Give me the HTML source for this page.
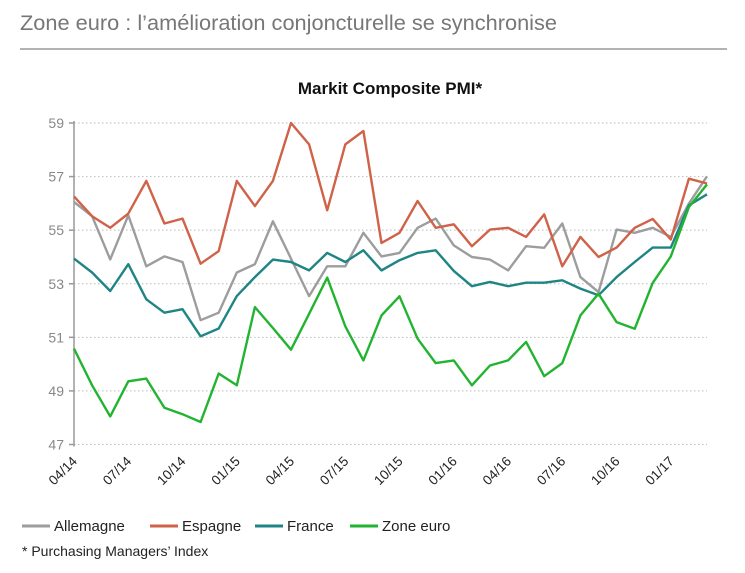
<!DOCTYPE html>
<html><head><meta charset="utf-8"><style>
body{margin:0;background:#fff;width:745px;height:568px;overflow:hidden;font-family:"Liberation Sans Narrow","Liberation Sans",sans-serif}
</style></head><body>
<svg width="745" height="568" xmlns="http://www.w3.org/2000/svg">
<text x="20" y="30" font-size="21" fill="#777" textLength="537" lengthAdjust="spacingAndGlyphs">Zone euro : l’amélioration conjoncturelle se synchronise</text>
<line x1="20" y1="49" x2="727" y2="49" stroke="#999" stroke-width="1.5"/>
<text x="390" y="94" font-size="17" font-weight="bold" text-anchor="middle" fill="#111">Markit Composite PMI*</text>
<g id="grid"></g><g id="axes"></g><g id="series"></g>
<g font-size="15" fill="#222">
<line x1="22" y1="526" x2="50" y2="526" stroke="#9d9d9d" stroke-width="3"/>
<text x="54" y="531">Allemagne</text>
<line x1="150" y1="526" x2="178" y2="526" stroke="#cf6248" stroke-width="3"/>
<text x="182" y="531">Espagne</text>
<line x1="255" y1="526" x2="283" y2="526" stroke="#1f8584" stroke-width="3"/>
<text x="287" y="531">France</text>
<line x1="350" y1="526" x2="378" y2="526" stroke="#22b431" stroke-width="3"/>
<text x="382" y="531">Zone euro</text>
</g>
<text x="22" y="556" font-size="14" fill="#222">* Purchasing Managers’ Index</text>
</svg>
<script>
const yTicks=[47,49,51,53,55,57,59];
const xLabels=["04/14","07/14","10/14","01/15","04/15","07/15","10/15","01/16","04/16","07/16","10/16","01/17"];
const allemagne=[56.05,55.52,53.91,55.55,53.65,54.02,53.81,51.64,51.92,53.42,53.73,55.33,53.94,52.54,53.65,53.65,54.9,54.02,54.15,55.09,55.43,54.43,54.0,53.9,53.5,54.4,54.34,55.25,53.25,52.69,55.02,54.9,55.09,54.75,55.99,57.01];
const espagne=[56.26,55.52,55.09,55.62,56.84,55.25,55.43,53.75,54.22,56.84,55.9,56.84,59.0,58.2,55.74,58.2,58.7,54.52,54.9,56.09,55.09,55.22,54.4,55.02,55.09,54.75,55.59,53.65,54.75,54.0,54.35,55.09,55.42,54.65,56.92,56.74];
const france=[53.94,53.42,52.73,53.73,52.42,51.92,52.05,51.04,51.33,52.54,53.25,53.9,53.81,53.5,54.15,53.81,54.25,53.5,53.88,54.15,54.25,53.48,52.91,53.07,52.91,53.04,53.04,53.13,52.82,52.57,53.25,53.81,54.35,54.35,55.93,56.34];
const zoneEuro=[50.58,49.21,48.05,49.36,49.46,48.37,48.13,47.84,49.65,49.21,52.13,51.35,50.54,51.88,53.23,51.41,50.14,51.82,52.53,50.95,50.04,50.14,49.21,49.95,50.14,50.83,49.55,50.04,51.82,52.63,51.57,51.32,53.03,54.02,55.86,56.71];
const NS="http://www.w3.org/2000/svg";
const x0=74,x1=707,yTop=123,yBot=444.5,vMin=47,vMax=59,n=allemagne.length;
const X=i=>x0+i*(x1-x0)/(n-1);
const Y=v=>yBot-(v-vMin)*(yBot-yTop)/(vMax-vMin);
function mk(t,a,p){const e=document.createElementNS(NS,t);for(const k in a)e.setAttribute(k,a[k]);p.appendChild(e);return e;}
const grid=document.getElementById('grid'),axes=document.getElementById('axes'),ser=document.getElementById('series');
yTicks.forEach(v=>{
const g=mk('line',{x1:x0,x2:x1,y1:Y(v),y2:Y(v),stroke:'#bbb','stroke-width':1,'stroke-dasharray':'1.5 2.5'},grid);


const tk=mk('line',{x1:x0-5,x2:x0,y1:Y(v),y2:Y(v),stroke:'#999','stroke-width':1.5},axes);


const t=mk('text',{x:x0-10,y:Y(v)+5,'font-size':14,'text-anchor':'end',fill:'#888'},axes);
t.textContent=v;


});
const ax=mk('line',{x1:x0,x2:x0,y1:yTop-2,y2:yBot+2,stroke:'#999','stroke-width':1.5},axes);


xLabels.forEach((l,k)=>{
const xx=X(k*3)+4,yy=462;
const t=mk('text',{x:xx,y:yy,'font-size':13.5,'text-anchor':'end',fill:'#222',transform:`rotate(-45 ${xx} ${yy})`},axes);
t.textContent=l;


});
[[allemagne,'#9d9d9d','line-allemagne'],[espagne,'#cf6248','line-espagne'],[france,'#1f8584','line-france'],[zoneEuro,'#22b431','line-zone-euro']].forEach(([d,c,nm])=>{
const p=mk('polyline',{points:d.map((v,i)=>X(i).toFixed(1)+','+Y(v).toFixed(1)).join(' '),fill:'none',stroke:c,'stroke-width':2.4,'stroke-linejoin':'round'},ser);


});
</script>
</body></html>
